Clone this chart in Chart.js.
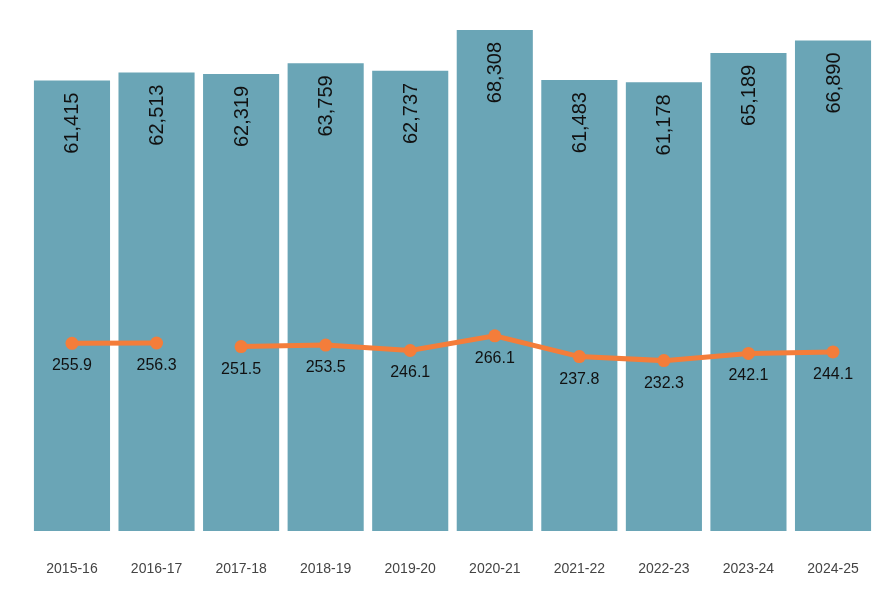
<!DOCTYPE html>
<html>
<head>
<meta charset="utf-8">
<script src="https://cdn.jsdelivr.net/npm/chart.js@4"></script>
<style>
html,body{margin:0;padding:0;background:#fff;}
#wrap{width:890px;height:600px;position:relative;}
</style>
</head>
<body>
<div id="wrap"><canvas id="c" width="890" height="600"></canvas></div>
<script>
const categories = ["2015-16","2016-17","2017-18","2018-19","2019-20","2020-21","2021-22","2022-23","2023-24","2024-25"];
const barValues = [61415, 62513, 62319, 63759, 62737, 68308, 61483, 61178, 65189, 66890];
const lineValues = [255.9, 256.3, 251.5, 253.5, 246.1, 266.1, 237.8, 232.3, 242.1, 244.1];
const gapAfterIndex = [1];

const barColor = '#6aa5b6';
const lineColor = '#f47d3a';

const labelPlugin = {
  id: 'valueLabels',
  afterDatasetsDraw(chart) {
    const ctx = chart.ctx;
    const barMeta = chart.getDatasetMeta(0);
    const lineMeta = chart.getDatasetMeta(1);
    ctx.save();
    ctx.fillStyle = '#111';
    ctx.font = '20px Arial, "Liberation Sans", sans-serif';
    barMeta.data.forEach((el, i) => {
      ctx.save();
      ctx.translate(el.x + 1, el.y + 12);
      ctx.rotate(-Math.PI / 2);
      ctx.textAlign = 'right';
      ctx.textBaseline = 'middle';
      ctx.fillText(barValues[i].toLocaleString('en-US'), 0, 0);
      ctx.restore();
    });
    ctx.font = '16px Arial, "Liberation Sans", sans-serif';
    ctx.textAlign = 'center';
    ctx.textBaseline = 'alphabetic';
    lineMeta.data.forEach((el, i) => {
      ctx.fillText(lineValues[i].toFixed(1), el.x, el.y + 27);
    });
    ctx.restore();
  }
};

new Chart(document.getElementById('c'), {
  data: {
    labels: categories,
    datasets: [
      {
        type: 'bar',
        data: barValues,
        backgroundColor: barColor,
        borderWidth: 0,
        barPercentage: 0.9,
        categoryPercentage: 1.0,
        yAxisID: 'y',
        order: 2
      },
      {
        type: 'line',
        data: lineValues,
        borderColor: lineColor,
        backgroundColor: lineColor,
        borderWidth: 5,
        pointRadius: 6.5,
        pointBackgroundColor: lineColor,
        pointBorderWidth: 0,
        tension: 0,
        yAxisID: 'y2',
        order: 1,
        segment: {
          borderColor: c => gapAfterIndex.includes(c.p0DataIndex) ? 'rgba(0,0,0,0)' : lineColor
        }
      }
    ]
  },
  options: {
    responsive: false,
    animation: false,
    devicePixelRatio: 1,
    layout: { padding: { left: 29.7, right: 14.7, top: 30, bottom: 0 } },
    plugins: { legend: { display: false }, tooltip: { enabled: false } },
    scales: {
      x: {
        grid: { display: false, drawTicks: false },
        border: { display: false },
        afterFit(scale) { scale.height = 69; },
        ticks: {
          color: '#444',
          font: { family: 'Arial, "Liberation Sans", sans-serif', size: 14 },
          padding: 29.5,
          maxRotation: 0,
          autoSkip: false
        }
      },
      y: { display: false, min: 0, max: 68308 },
      y2: { display: false, min: 0, max: 683.08 }
    }
  },
  plugins: [labelPlugin]
});
</script>
</body>
</html>
